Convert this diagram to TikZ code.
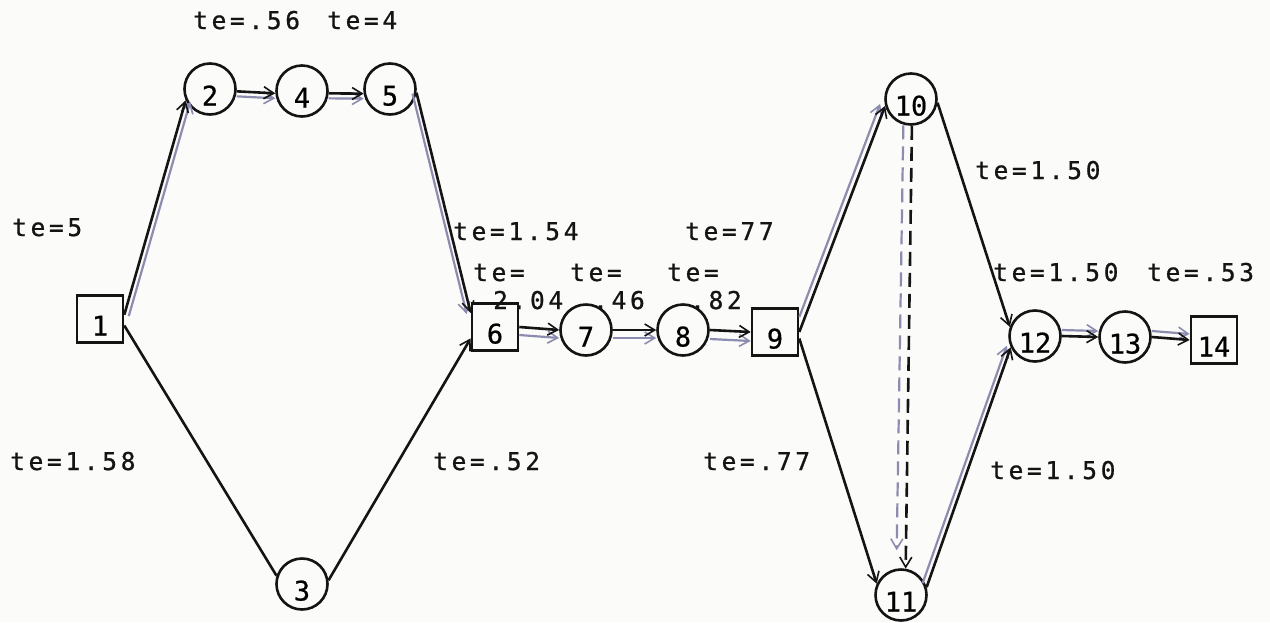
\documentclass[tikz,border=0pt]{standalone}
\usepackage{fontspec}
\newfontfamily\tw[LetterSpace=15,FakeBold=0.8]{DejaVu Sans Mono}
\newfontfamily\twn[FakeBold=0.6]{DejaVu Sans Mono}
\usetikzlibrary{arrows.meta,calc}
\definecolor{lav}{HTML}{8C8CB0}
\definecolor{ink}{HTML}{141414}
\definecolor{paper}{HTML}{FBFBF9}
\begin{document}
\begin{tikzpicture}[x=1pt,y=-1pt,
  circ/.style={circle, draw=ink, line width=2.6pt, minimum size=51pt, inner sep=0pt,
    font=\twn\fontsize{27}{30}\selectfont, text height=33pt, text depth=0pt},
  sq/.style={rectangle, draw=ink, line width=2.6pt, minimum width=46pt, minimum height=47pt,
    inner sep=0pt, font=\twn\fontsize{27}{30}\selectfont, text height=33pt, text depth=0pt},
  lbl/.style={anchor=base west, inner sep=0pt, font=\tw\fontsize{24.5}{28}\selectfont, text=ink},
  tip/.style={-{Straight Barb[length=10pt,width=12pt,line width=1.6pt]}},
  blk/.style={draw=ink, line width=2.6pt},
  lavl/.style={draw=lav, line width=2.2pt},
  dsh/.style={dash pattern=on 14pt off 7pt}
]
\fill[paper] (0,0) rectangle (1270,622);
\useasboundingbox (0,0) rectangle (1270,622);

% nodes
\node[sq]   (n1)  at (100,319) {1};
\node[circ] (n2)  at (210,89)  {2};
\node[circ] (n4)  at (302,91)  {4};
\node[circ] (n5)  at (390,89)  {5};
\node[circ] (n3)  at (302,584) {3};
\node[sq]   (n6)  at (495,327) {6};
\node[circ] (n7)  at (586,330) {7};
\node[circ] (n8)  at (683,330) {8};
\node[sq]   (n9)  at (775,332) {9};
\node[circ] (n10) at (911,99)  {10};
\node[circ] (n11) at (901,595) {11};
\node[circ] (n12) at (1035,336) {12};
\node[circ] (n13) at (1125,337) {13};
\node[sq]   (n14) at (1214,340) {14};

% connectors
\draw[lavl,tip] ($(n1.10)+(4.5,1.3)$) -- ($(n2.205)+(4.5,1.3)$);
\draw[blk,tip] (n1.10) -- (n2.205);
\draw[blk] (n1.-15) -- (n3.162);

\draw[lavl,tip] ($(n2.-5)+(0,5)$) -- ($(n4.185)+(0,5)$);
\draw[blk,tip] (n2.-5) -- (n4.185);
\draw[lavl,tip] ($(n4.-5)+(0,5)$) -- ($(n5.190)+(0,5)$);
\draw[blk,tip] (n4.-5) -- (n5.190);

\draw[lavl,tip] ($(n5.-8)+(-4,1)$) -- ($(n6.150)+(-4,1)$);
\draw[blk,tip] (n5.-8) -- (n6.150);
\draw[blk,tip] (n3.8) -- (n6.205);

\draw[lavl,tip] ($(n6.east)+(0,8)$) -- ($(n7.west)+(0,8)$);
\draw[blk,tip] (n6.east) -- (n7.west);
\draw[lavl,tip] ($(n7.east)+(0,8)$) -- ($(n8.west)+(0,8)$);
\draw[blk,tip] (n7.east) -- (n8.west);
\draw[lavl,tip] ($(n8.east)+(0,9)$) -- ($(n9.west)+(0,9)$);
\draw[blk,tip] (n8.east) -- (n9.west);

\draw[lavl,tip] ($(n9.east)+(0,-15)$) -- ($(n10.195)+(-5,-2)$);
\draw[blk,tip] (n9.east) -- (n10.195);
\draw[blk,tip] (n9.-15) -- (n11.155);

\draw[lavl,dsh,tip] ($(n10.-100)+(-3,0)$) -- ($(n11.95)+(-2,-18)$);
\draw[blk,dsh,tip] (n10.-88) -- (n11.80);

\draw[blk,tip] (n10.-8) -- (n12.160);
\draw[lavl,tip] ($(n11.17)+(-4,-4)$) -- ($(n12.205)+(-4,-1.5)$);
\draw[blk,tip] (n11.17) -- (n12.205);

\draw[lavl,tip] ($(n12.east)+(0,-6)$) -- ($(n13.west)+(0,-6)$);
\draw[blk,tip] (n12.east) -- (n13.west);
\draw[lavl,tip] ($(n13.east)+(0,-6)$) -- ($(n14.west)+(0,-6)$);
\draw[blk,tip] (n13.east) -- (n14.west);

% labels
\node[lbl] (l24)  at (193,29)  {te=.56};
\node[lbl] (l45)  at (327,29)  {te=4};
\node[lbl] (l12)  at (12,236)  {te=5};
\node[lbl] (l13)  at (10,470)  {te=1.58};
\node[lbl] (l36)  at (433,470) {te=.52};
\node[lbl] (l911) at (703,470) {te=.77};
\node[lbl] (l56)  at (453,240) {te=1.54};
\node[lbl] (l910) at (685,240) {te=77};
\node[lbl] (l67a) at (473,281) {te=};
\node[lbl] (l78a) at (570,281) {te=};
\node[lbl] (l89a) at (667,281) {te=};
\node[lbl] (l67b) at (493,309) {2.04};
\node[lbl] (l78b) at (593,309) {.46};
\node[lbl] (l89b) at (690,309) {.82};
\node[lbl] (l1012) at (975,179) {te=1.50};
\node[lbl] (l1011) at (993,281) {te=1.50};
\node[lbl] (l1314) at (1147,281) {te=.53};
\node[lbl] (l1112) at (990,479) {te=1.50};
\end{tikzpicture}
\end{document}
